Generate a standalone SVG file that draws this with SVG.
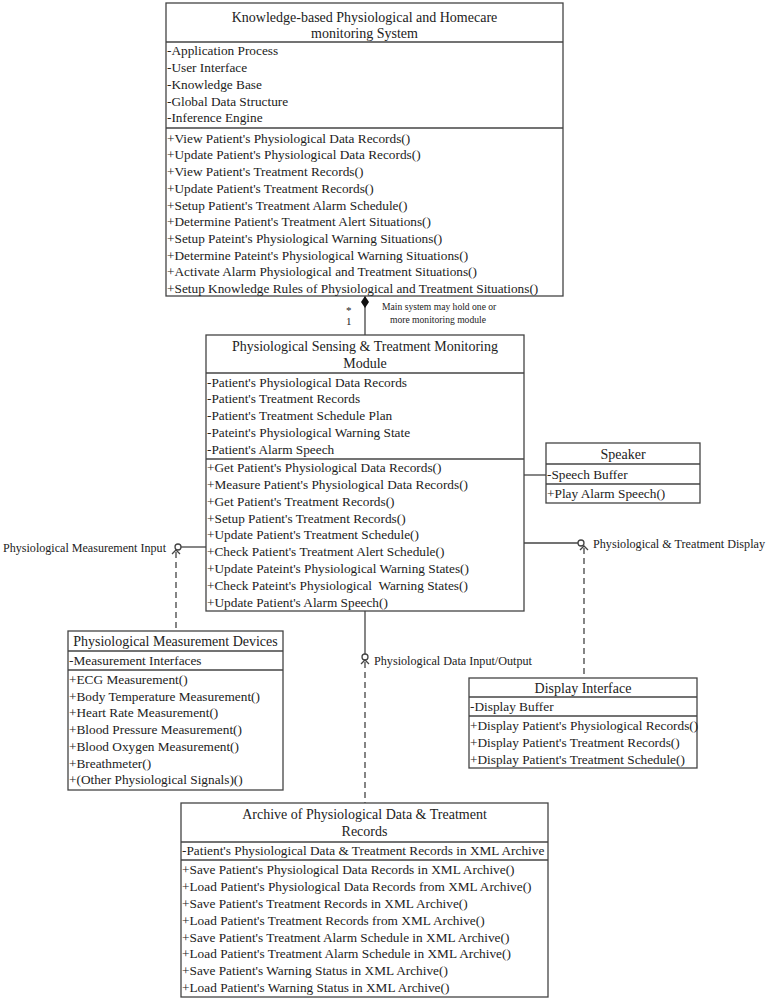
<svg xmlns="http://www.w3.org/2000/svg" width="769" height="1000" viewBox="0 0 769 1000">
<style>
text{font-family:"Liberation Serif","DejaVu Serif",serif;fill:#222;font-size:13.3px}
.t{font-size:14px;text-anchor:middle}
.s{font-size:9.6px}
.m{font-size:11px}
.lbl{font-size:12px}
.box{fill:#fff;stroke:#444;stroke-width:1.3}
.div{stroke:#444;stroke-width:1.3}
.ln{stroke:#444;stroke-width:1.3;fill:none}
.dash{stroke:#444;stroke-width:1.3;fill:none;stroke-dasharray:6,4}
</style>
<rect width="769" height="1000" fill="#fff"/>
<g id="connectors">
<line class="ln" x1="365" y1="296" x2="365" y2="335"/>
<polygon points="365,296 369,302 365,308 361,302" fill="#111"/>
<text x="346" y="314" class="m">*</text>
<text x="346" y="325" class="m">1</text>
<text x="382" y="310" class="s">Main system may hold one or</text>
<text x="390" y="323" class="s">more monitoring module</text>
<line class="ln" x1="524" y1="475" x2="546" y2="475"/>
<line class="ln" x1="524" y1="543" x2="578" y2="543"/>
<circle class="ln" cx="581" cy="543" r="3"/>
<polyline class="ln" points="580,550 584,546 588,550"/>
<line class="dash" x1="584" y1="548" x2="584" y2="678"/>
<text x="593" y="548" class="lbl" textLength="172" lengthAdjust="spacingAndGlyphs">Physiological &amp; Treatment Display</text>
<line class="ln" x1="206" y1="547" x2="181" y2="547"/>
<circle class="ln" cx="178" cy="547" r="3"/>
<polyline class="ln" points="172,554 176,550 180,554"/>
<line class="dash" x1="176" y1="552" x2="176" y2="631"/>
<text x="3" y="552" class="lbl" textLength="163" lengthAdjust="spacingAndGlyphs">Physiological Measurement Input</text>
<line class="ln" x1="365" y1="611" x2="365" y2="654"/>
<circle class="ln" cx="365" cy="657" r="3"/>
<polyline class="ln" points="361,664 365,660 369,664"/>
<line class="dash" x1="365" y1="662" x2="365" y2="803"/>
<text x="374" y="665" class="lbl" textLength="158" lengthAdjust="spacingAndGlyphs">Physiological Data Input/Output</text>
</g>
<g id="main-system">
<rect class="box" x="166" y="3" width="397" height="293"/>
<text class="t" x="364.5" y="22">Knowledge-based Physiological and Homecare</text>
<text class="t" x="364.5" y="38">monitoring System</text>
<line class="div" x1="166" y1="42" x2="563" y2="42"/>
<text x="167" y="55">-Application Process</text>
<text x="167" y="72">-User Interface</text>
<text x="167" y="89">-Knowledge Base</text>
<text x="167" y="106">-Global Data Structure</text>
<text x="167" y="122">-Inference Engine</text>
<line class="div" x1="166" y1="128" x2="563" y2="128"/>
<text x="167" y="143">+View Patient's Physiological Data Records()</text>
<text x="167" y="159">+Update Patient's Physiological Data Records()</text>
<text x="167" y="176">+View Patient's Treatment Records()</text>
<text x="167" y="193">+Update Patient's Treatment Records()</text>
<text x="167" y="210">+Setup Patient's Treatment Alarm Schedule()</text>
<text x="167" y="226">+Determine Patient's Treatment Alert Situations()</text>
<text x="167" y="243">+Setup Pateint's Physiological Warning Situations()</text>
<text x="167" y="260">+Determine Pateint's Physiological Warning Situations()</text>
<text x="167" y="276">+Activate Alarm Physiological and Treatment Situations()</text>
<text x="167" y="293">+Setup Knowledge Rules of Physiological and Treatment Situations()</text>
</g>
<g id="monitoring-module">
<rect class="box" x="206" y="335" width="318" height="276"/>
<text class="t" x="365" y="351">Physiological Sensing &amp; Treatment Monitoring</text>
<text class="t" x="365" y="368">Module</text>
<line class="div" x1="206" y1="373" x2="524" y2="373"/>
<text x="207" y="387">-Patient's Physiological Data Records</text>
<text x="207" y="403">-Patient's Treatment Records</text>
<text x="207" y="420">-Patient's Treatment Schedule Plan</text>
<text x="207" y="437">-Pateint's Physiological Warning State</text>
<text x="207" y="454">-Patient's Alarm Speech</text>
<line class="div" x1="206" y1="459" x2="524" y2="459"/>
<text x="207" y="472">+Get Patient's Physiological Data Records()</text>
<text x="207" y="489">+Measure Patient's Physiological Data Records()</text>
<text x="207" y="506">+Get Patient's Treatment Records()</text>
<text x="207" y="523">+Setup Patient's Treatment Records()</text>
<text x="207" y="539">+Update Patient's Treatment Schedule()</text>
<text x="207" y="556">+Check Patient's Treatment Alert Schedule()</text>
<text x="207" y="573">+Update Pateint's Physiological Warning States()</text>
<text x="207" y="590" xml:space="preserve">+Check Pateint's Physiological  Warning States()</text>
<text x="207" y="607">+Update Patient's Alarm Speech()</text>
</g>
<g id="speaker">
<rect class="box" x="546" y="443" width="154" height="60"/>
<text class="t" x="623" y="459">Speaker</text>
<line class="div" x1="546" y1="464" x2="700" y2="464"/>
<text x="547" y="479">-Speech Buffer</text>
<line class="div" x1="546" y1="484" x2="700" y2="484"/>
<text x="547" y="498">+Play Alarm Speech()</text>
</g>
<g id="measurement-devices">
<rect class="box" x="68" y="631" width="215" height="159"/>
<text class="t" x="175.5" y="646">Physiological Measurement Devices</text>
<line class="div" x1="68" y1="651" x2="283" y2="651"/>
<text x="69" y="665">-Measurement Interfaces</text>
<line class="div" x1="68" y1="670" x2="283" y2="670"/>
<text x="69" y="684">+ECG Measurement()</text>
<text x="69" y="701">+Body Temperature Measurement()</text>
<text x="69" y="717">+Heart Rate Measurement()</text>
<text x="69" y="734">+Blood Pressure Measurement()</text>
<text x="69" y="751">+Blood Oxygen Measurement()</text>
<text x="69" y="768">+Breathmeter()</text>
<text x="69" y="784">+(Other Physiological Signals)()</text>
</g>
<g id="display-interface">
<rect class="box" x="469" y="678" width="228" height="90"/>
<text class="t" x="583" y="693">Display Interface</text>
<line class="div" x1="469" y1="697" x2="697" y2="697"/>
<text x="470" y="711">-Display Buffer</text>
<line class="div" x1="469" y1="716" x2="697" y2="716"/>
<text x="470" y="730">+Display Patient's Physiological Records()</text>
<text x="470" y="747">+Display Patient's Treatment Records()</text>
<text x="470" y="764">+Display Patient's Treatment Schedule()</text>
</g>
<g id="archive">
<rect class="box" x="181" y="803" width="367" height="194"/>
<text class="t" x="364.5" y="819">Archive of Physiological Data &amp; Treatment</text>
<text class="t" x="364.5" y="836">Records</text>
<line class="div" x1="181" y1="842" x2="548" y2="842"/>
<text x="182" y="855">-Patient's Physiological Data &amp; Treatment Records in XML Archive</text>
<line class="div" x1="181" y1="860" x2="548" y2="860"/>
<text x="182" y="874">+Save Patient's Physiological Data Records in XML Archive()</text>
<text x="182" y="891">+Load Patient's Physiological Data Records from XML Archive()</text>
<text x="182" y="908">+Save Patient's Treatment Records in XML Archive()</text>
<text x="182" y="925">+Load Patient's Treatment Records from XML Archive()</text>
<text x="182" y="942">+Save Patient's Treatment Alarm Schedule in XML Archive()</text>
<text x="182" y="958">+Load Patient's Treatment Alarm Schedule in XML Archive()</text>
<text x="182" y="975">+Save Patient's Warning Status in XML Archive()</text>
<text x="182" y="992">+Load Patient's Warning Status in XML Archive()</text>
</g>
</svg>
